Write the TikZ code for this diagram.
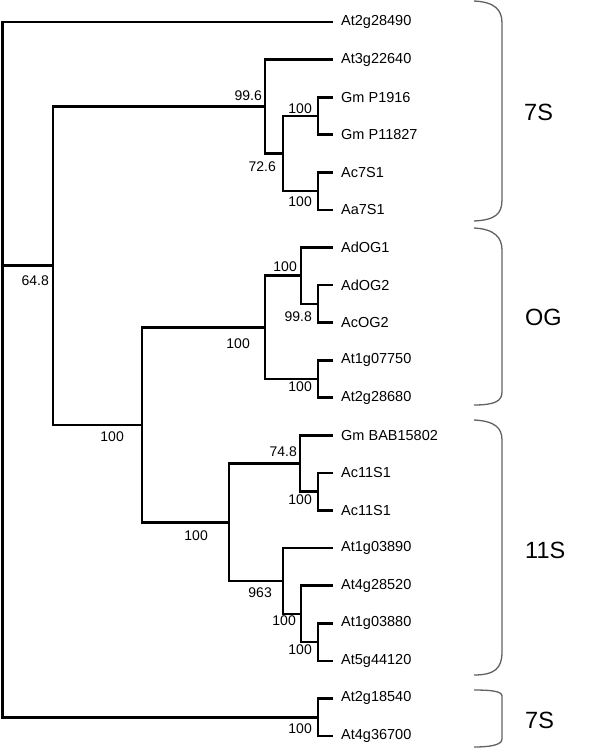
\documentclass[tikz,border=0pt]{standalone}
\usepackage{fontspec}
\setmainfont{Liberation Sans}
\begin{document}
\begin{tikzpicture}[x=1pt,y=-1pt,
  branch/.style={line width=2.7pt, line join=miter, black},
  leaf/.style={anchor=west, inner xsep=8pt, inner ysep=0pt, font=\fontsize{14.5}{16}\selectfont},
  bs/.style={anchor=east, inner sep=0pt, font=\fontsize{14}{16}\selectfont},
  grp/.style={anchor=west, inner sep=0pt, font=\fontsize{23.5}{26}\selectfont},
  brk/.style={line width=1.3pt, draw=black!62}]
\useasboundingbox (0,0) rectangle (600,750);
% leaves
\node[leaf] (l1)  at (333,22)    {At2g28490};
\node[leaf] (l2)  at (333,59.6)  {At3g22640};
\node[leaf] (l3)  at (333,97.2)  {Gm P1916};
\node[leaf] (l4)  at (333,134.7) {Gm P11827};
\node[leaf] (l5)  at (333,172.3) {Ac7S1};
\node[leaf] (l6)  at (333,209.9) {Aa7S1};
\node[leaf] (l7)  at (333,247.5) {AdOG1};
\node[leaf] (l8)  at (333,285.1) {AdOG2};
\node[leaf] (l9)  at (333,322.6) {AcOG2};
\node[leaf] (l10) at (333,360.2) {At1g07750};
\node[leaf] (l11) at (333,397.8) {At2g28680};
\node[leaf] (l12) at (333,435.4) {Gm BAB15802};
\node[leaf] (l13) at (333,473.0) {Ac11S1};
\node[leaf] (l14) at (333,510.5) {Ac11S1};
\node[leaf] (l15) at (333,548.1) {At1g03890};
\node[leaf] (l16) at (333,585.7) {At4g28520};
\node[leaf] (l17) at (333,623.3) {At1g03880};
\node[leaf] (l18) at (333,660.9) {At5g44120};
\node[leaf] (l19) at (333,698.4) {At2g18540};
\node[leaf] (l20) at (333,736.0) {At4g36700};
% internal nodes
\coordinate (G) at (318,116);
\coordinate (H) at (318,191);
\coordinate (F) at (283,153.5);
\coordinate (E) at (265,106.5);
\coordinate (K) at (318,303.9);
\coordinate (J) at (301,275.7);
\coordinate (L) at (318,379);
\coordinate (I) at (265,327.4);
\coordinate (N) at (318,491.8);
\coordinate (M) at (300,463.6);
\coordinate (Q) at (318,642.1);
\coordinate (P) at (301,613.9);
\coordinate (O) at (283,581);
\coordinate (C) at (229,522.3);
\coordinate (B) at (142,424.9);
\coordinate (A) at (53,265.7);
\coordinate (R) at (318,717.2);
\coordinate (root) at (2.5,265.7);
% branches
\draw[branch] (root) |- (l1.west);
\draw[branch] (root) |- (A);
\draw[branch] (root) |- (R);
\draw[branch] (R) |- (l19.west);
\draw[branch] (R) |- (l20.west);
\draw[branch] (A) |- (E);
\draw[branch] (A) |- (B);
\draw[branch] (E) |- (l2.west);
\draw[branch] (E) |- (F);
\draw[branch] (F) |- (G);
\draw[branch] (F) |- (H);
\draw[branch] (G) |- (l3.west);
\draw[branch] (G) |- (l4.west);
\draw[branch] (H) |- (l5.west);
\draw[branch] (H) |- (l6.west);
\draw[branch] (B) |- (I);
\draw[branch] (B) |- (C);
\draw[branch] (I) |- (J);
\draw[branch] (I) |- (L);
\draw[branch] (J) |- (l7.west);
\draw[branch] (J) |- (K);
\draw[branch] (K) |- (l8.west);
\draw[branch] (K) |- (l9.west);
\draw[branch] (L) |- (l10.west);
\draw[branch] (L) |- (l11.west);
\draw[branch] (C) |- (M);
\draw[branch] (C) |- (O);
\draw[branch] (M) |- (l12.west);
\draw[branch] (M) |- (N);
\draw[branch] (N) |- (l13.west);
\draw[branch] (N) |- (l14.west);
\draw[branch] (O) |- (l15.west);
\draw[branch] (O) |- (P);
\draw[branch] (P) |- (l16.west);
\draw[branch] (P) |- (Q);
\draw[branch] (Q) |- (l17.west);
\draw[branch] (Q) |- (l18.west);
% support values
\node[bs] (sA) at (49,281) {64.8};
\node[bs] (sB) at (124,437) {100};
\node[bs] (sE) at (262,96) {99.6};
\node[bs] (sF) at (276,167) {72.6};
\node[bs] (sG) at (312,109) {100};
\node[bs] (sH) at (312,202) {100};
\node[bs] (sI) at (250,344) {100};
\node[bs] (sJ) at (297,267) {100};
\node[bs] (sK) at (312,317) {99.8};
\node[bs] (sL) at (312,387) {100};
\node[bs] (sC) at (208,536) {100};
\node[bs] (sM) at (297,452) {74.8};
\node[bs] (sN) at (312,500) {100};
\node[bs] (sO) at (272,593) {963};
\node[bs] (sP) at (296,621) {100};
\node[bs] (sQ) at (312,650) {100};
\node[bs] (sR) at (312,729) {100};
% brackets
\draw[brk] (474,1) .. controls (495,2) and (502,10) .. (502,23) -- (502,200) .. controls (502,214) and (495,220) .. (474,221);
\draw[brk] (474,228) .. controls (495,229) and (502,238) .. (502,250) -- (502,392) .. controls (502,401) and (495,405) .. (474,405);
\draw[brk] (474,420) .. controls (495,421) and (502,428) .. (502,440) -- (502,652) .. controls (502,668) and (495,675) .. (474,675);
\draw[brk] (474,690) .. controls (490,690) and (502,691) .. (502,696) -- (502,739) .. controls (502,745) and (490,747) .. (474,747);
% group labels
\node[grp] (g1) at (524,112) {7S};
\node[grp] (g2) at (525,317) {OG};
\node[grp] (g3) at (525,550) {11S};
\node[grp] (g4) at (525,720) {7S};
\end{tikzpicture}
\end{document}
